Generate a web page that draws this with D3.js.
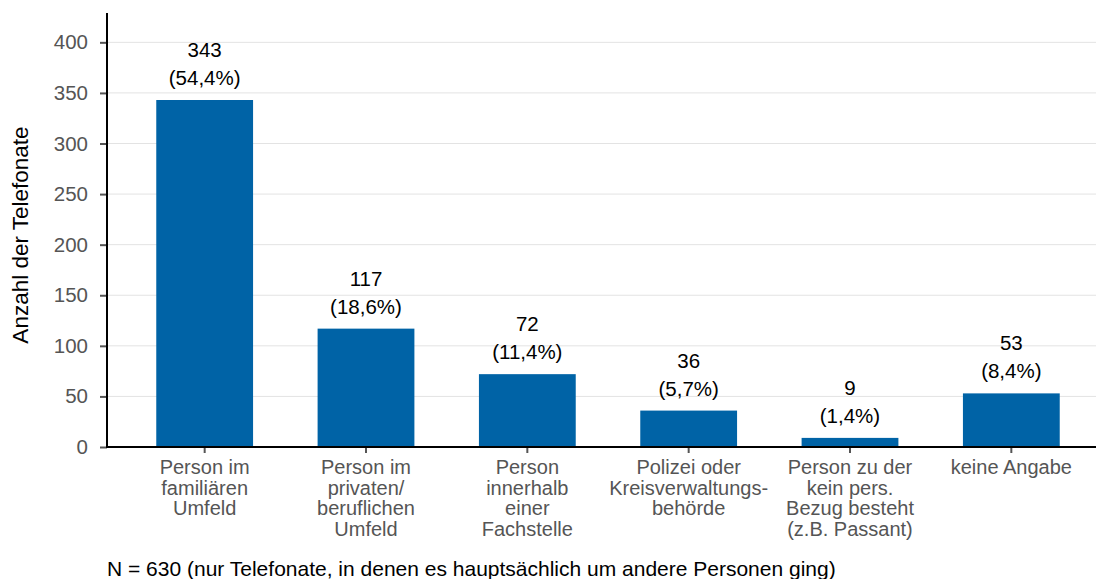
<!DOCTYPE html>
<html>
<head>
<meta charset="utf-8">
<script src="https://cdnjs.cloudflare.com/ajax/libs/d3/7.8.5/d3.min.js"></script>
<style>
body { margin: 0; background: #fff; }
svg text { font-family: "Liberation Sans", Arial, sans-serif; }
</style>
</head>
<body>
<script>
var categories = [
	["Person im", "familiären", "Umfeld"],
	["Person im", "privaten/", "beruflichen", "Umfeld"],
	["Person", "innerhalb", "einer", "Fachstelle"],
	["Polizei oder", "Kreisverwaltungs-", "behörde"],
	["Person zu der", "kein pers.", "Bezug besteht", "(z.B. Passant)"],
	["keine Angabe"]
];
var counts = [343, 117, 72, 36, 9, 53];
var percents = ["54,4%", "18,6%", "11,4%", "5,7%", "1,4%", "8,4%"];
var yTicks = [0, 50, 100, 150, 200, 250, 300, 350, 400];

var width = 1096,
	height = 579;
var plotLeft = 107, plotRight = 1096, plotTop = 13, plotBottom = 447;

var svg = d3.select("body").append("svg")
	.attr("width", width)
	.attr("height", height);

var x = d3.scaleBand()
	.domain(d3.range(counts.length))
	.range([124, 1092])
	.paddingInner(0.4)
	.paddingOuter(0.2);

var y = d3.scaleLinear()
	.domain([0, 429])
	.range([plotBottom, plotTop]);

// gridlines
svg.append("g")
	.selectAll("line")
	.data(yTicks.filter(function(d) { return d > 0; }))
	.enter().append("line")
	.attr("x1", plotLeft)
	.attr("x2", plotRight)
	.attr("y1", function(d) { return y(d); })
	.attr("y2", function(d) { return y(d); })
	.attr("stroke", "#e3e3e3")
	.attr("stroke-width", 1);

// bars
svg.append("g")
	.selectAll("rect")
	.data(counts)
	.enter().append("rect")
	.attr("x", function(d, i) { return x(i); })
	.attr("width", x.bandwidth())
	.attr("y", function(d) { return y(d); })
	.attr("height", function(d) { return plotBottom - y(d); })
	.attr("fill", "#0063a6");

// value labels
var labels = svg.append("g")
	.selectAll("g")
	.data(counts)
	.enter().append("g");

labels.append("text")
	.attr("x", function(d, i) { return x(i) + x.bandwidth() / 2; })
	.attr("y", function(d) { return y(d) - 43; })
	.attr("text-anchor", "middle")
	.attr("font-size", 20.5)
	.attr("fill", "#000")
	.text(function(d) { return d; });

labels.append("text")
	.attr("x", function(d, i) { return x(i) + x.bandwidth() / 2; })
	.attr("y", function(d) { return y(d) - 15; })
	.attr("text-anchor", "middle")
	.attr("font-size", 20.5)
	.attr("fill", "#000")
	.text(function(d, i) { return "(" + percents[i] + ")"; });

// y axis
var yAxis = svg.append("g")
	.attr("transform", "translate(" + plotLeft + ",0)")
	.call(d3.axisLeft(y).tickValues(yTicks).tickSize(7).tickPadding(12));
yAxis.select(".domain").remove();
yAxis.selectAll(".tick line").attr("stroke", "#555").attr("stroke-width", 2);
yAxis.selectAll(".tick text")
	.attr("font-size", 20.5)
	.attr("fill", "#555")
	.style("font-family", "Liberation Sans, Arial, sans-serif");

svg.append("line")
	.attr("x1", plotLeft).attr("x2", plotLeft)
	.attr("y1", plotTop).attr("y2", plotBottom + 1)
	.attr("stroke", "#000")
	.attr("stroke-width", 2);

// x axis
var xAxis = svg.append("g")
	.attr("transform", "translate(0," + plotBottom + ")")
	.call(d3.axisBottom(x).tickSize(6).tickFormat(""));
xAxis.select(".domain").remove();
xAxis.selectAll(".tick line").attr("stroke", "#555").attr("stroke-width", 2);

svg.append("line")
	.attr("x1", plotLeft - 1).attr("x2", plotRight)
	.attr("y1", plotBottom).attr("y2", plotBottom)
	.attr("stroke", "#000")
	.attr("stroke-width", 2);

// category labels, one text per line
svg.append("g")
	.selectAll("g")
	.data(categories)
	.enter().append("g")
	.each(function(lines, i) {
		d3.select(this).selectAll("text")
			.data(lines)
			.enter().append("text")
			.attr("x", x(i) + x.bandwidth() / 2)
			.attr("y", function(s, j) { return 474 + j * 20.5; })
			.attr("text-anchor", "middle")
			.attr("font-size", 20)
			.attr("fill", "#555")
			.text(function(s) { return s; });
	});

// y title
svg.append("text")
	.attr("transform", "translate(28,235) rotate(-90)")
	.attr("text-anchor", "middle")
	.attr("font-size", 22.5)
	.attr("fill", "#000")
	.text("Anzahl der Telefonate");

// footnote
svg.append("text")
	.attr("x", 107)
	.attr("y", 576)
	.attr("font-size", 21)
	.attr("fill", "#000")
	.text("N = 630 (nur Telefonate, in denen es hauptsächlich um andere Personen ging)");
</script>
</body>
</html>
